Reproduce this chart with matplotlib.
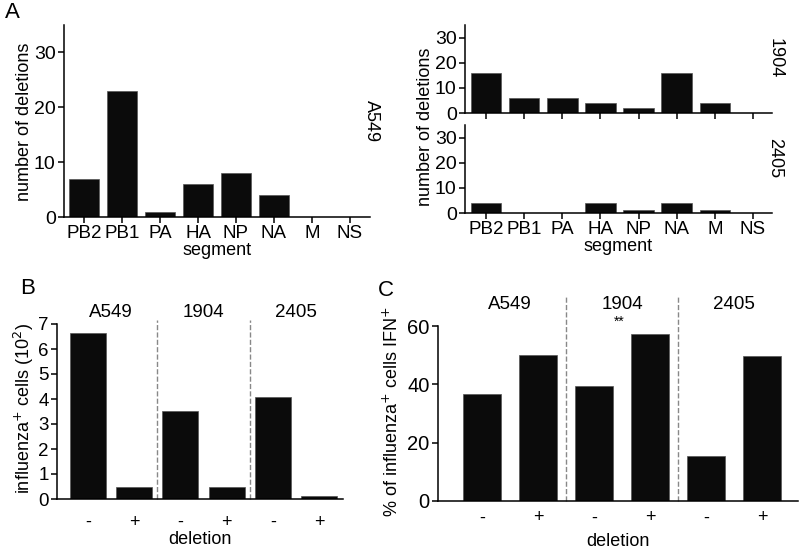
import matplotlib
matplotlib.use("Agg")
import matplotlib.pyplot as plt
import numpy as np

plt.rcParams['font.family'] = ['Liberation Sans', 'DejaVu Sans']
plt.rcParams['font.size'] = 13

# data
segments = ['PB2', 'PB1', 'PA', 'HA', 'NP', 'NA', 'M', 'NS']
del_a549 = [7, 23, 1, 6, 8, 4, 0, 0]
del_1904 = [16, 6, 6, 4, 2, 16, 4, 0]
del_2405 = [4, 0, 0, 4, 1, 4, 1, 0]

groups = ['A549', '1904', '2405']
deletion_labels = ['-', '+', '-', '+', '-', '+']
infected_cells = [6.65, 0.47, 3.52, 0.47, 4.07, 0.12]   # x 10^2
ifn_pct = [36.8, 50.0, 39.3, 57.2, 15.5, 49.8]

W, H = 800, 556
BAR = '#0b0b0b'


def px_axes(fig, left, right, bottom, top):
    return fig.add_axes([left / W, 1 - bottom / H, (right - left) / W, (bottom - top) / H])


def style(ax, size=14):
    for s in ['top', 'right']:
        ax.spines[s].set_visible(False)
    for s in ['left', 'bottom']:
        ax.spines[s].set_linewidth(1.1)
    ax.tick_params(direction='out', length=4, width=1.1, labelsize=size, pad=2)


def ylabel_at(ax, text, xpx, ypx):
    # place y label centre at a pixel position
    ax.set_ylabel(text, va='center', fontsize=13)
    inv = ax.transAxes.inverted()
    ax_x, ax_y = inv.transform(fig.transFigure.transform((xpx / W, 1 - ypx / H)))
    ax.yaxis.set_label_coords(ax_x, ax_y)


fig = plt.figure(figsize=(W / 100, H / 100), dpi=100)

# panel A left
ax = px_axes(fig, 64, 370, 217, 25)
x = np.arange(len(segments))
ax.bar(x, del_a549, width=0.8, color=BAR, edgecolor='#555555', linewidth=0.5)
ax.set_xlim(-0.53, 7.53)
ax.set_ylim(0, 35)
ax.set_yticks([0, 10, 20, 30])
ax.set_xticks(x)
ax.set_xticklabels(segments)
ax.set_xlabel('segment', labelpad=0)
style(ax, 14)
ax.tick_params(axis='x', labelsize=13.5)
ylabel_at(ax, 'number of deletions', 25, 122)
ax.text(1.005, 0.5, 'A549', rotation=270, transform=ax.transAxes, ha='center', va='center', fontsize=13)

# panel A right (two stacked)
ax1 = px_axes(fig, 465, 772, 113, 25)
ax2 = px_axes(fig, 465, 772, 213, 125)
for a, vals, name in [(ax1, del_1904, '1904'), (ax2, del_2405, '2405')]:
    a.bar(x, vals, width=0.8, color=BAR, edgecolor='#555555', linewidth=0.5)
    a.set_xlim(-0.55, 7.5)
    a.set_ylim(0, 35)
    a.set_yticks([0, 10, 20, 30])
    a.set_xticks(x)
    style(a, 14)
    a.text(1.01, 0.62, name, rotation=270, transform=a.transAxes, ha='center', va='center', fontsize=13)
ax1.set_xticklabels([])
ax2.set_xticklabels(segments)
ax2.tick_params(axis='x', labelsize=13.5)
ax2.set_xlabel('segment', labelpad=0)
fig.text(425 / W, 1 - 127 / H, 'number of deletions', rotation=90, ha='center', va='center', fontsize=13)

# panel B
axb = px_axes(fig, 57, 343, 499, 324)
xb = np.arange(len(infected_cells))
axb.bar(xb, infected_cells, width=0.78, color=BAR, edgecolor='#555555', linewidth=0.5)
axb.set_xlim(-0.67, 5.52)
axb.set_ylim(0, 7)
axb.set_yticks(range(8))
axb.set_xticks(xb)
axb.set_xticklabels(deletion_labels)
style(axb, 13.5)
axb.tick_params(axis='x', length=0, pad=11, labelsize=13)
axb.set_xlabel('deletion', labelpad=0)
ylabel_at(axb, 'influenza$^{+}$ cells (10$^{2}$)', 24, 409)
for xd in [1.5, 3.5]:
    axb.plot([xd, xd], [0, 7.15], ls='--', color='#888888', lw=1.0, clip_on=False)
for i, g in enumerate(groups):
    axb.text(2 * i + 0.5, 7.45, g, ha='center', va='center', fontsize=13.5)

# panel C
axc = px_axes(fig, 438, 798, 501, 326)
axc.bar(xb, ifn_pct, width=0.68, color=BAR, edgecolor='#555555', linewidth=0.5)
axc.set_xlim(-0.79, 5.64)
axc.set_ylim(0, 60)
axc.set_yticks([0, 20, 40, 60])
axc.set_xticks(xb)
axc.set_xticklabels(deletion_labels)
style(axc, 14.5)
axc.tick_params(axis='x', length=0, pad=6, labelsize=13)
axc.set_xlabel('deletion', labelpad=5)
ylabel_at(axc, '% of influenza$^{+}$ cells IFN$^{+}$', 392, 412)
for xd in [1.5, 3.5]:
    axc.plot([xd, xd], [0, 70], ls='--', color='#888888', lw=1.0, clip_on=False)
for i, g in enumerate(groups):
    axc.text(2 * i + 0.5, 67.5, g, ha='center', va='center', fontsize=13.5)
axc.text(2.45, 61.5, '**', ha='center', va='center', fontsize=10)

# panel letters
fig.text(12 / W, 1 - 13 / H, 'A', fontsize=16, ha='center', va='center')
fig.text(28 / W, 1 - 289 / H, 'B', fontsize=16, ha='center', va='center')
fig.text(386 / W, 1 - 290 / H, 'C', fontsize=16, ha='center', va='center')

fig.savefig('out.png', dpi=100)
